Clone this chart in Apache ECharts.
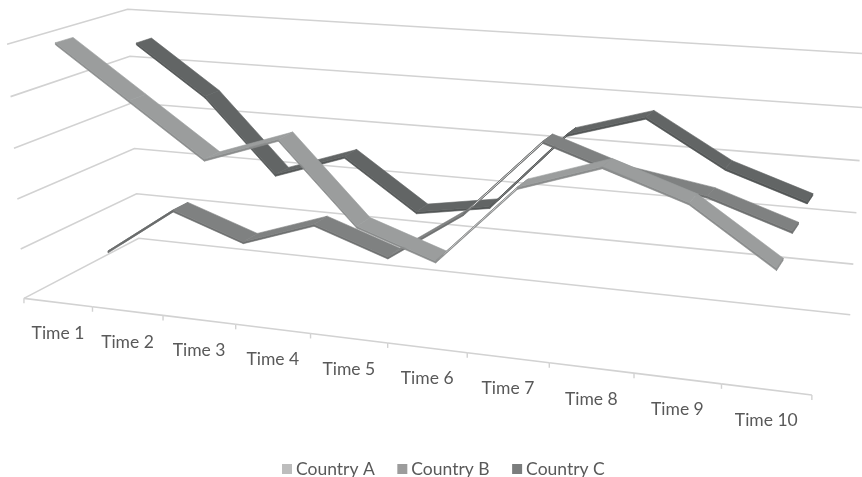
<!DOCTYPE html>
<html>
<head>
<meta charset="utf-8">
<style>html,body{margin:0;padding:0;background:#fff}#chart{width:862px;height:477px}</style>
<script src="https://cdn.jsdelivr.net/npm/echarts@6/dist/echarts.min.js"></script>
</head>
<body>
<div id="chart"></div>
<script>
// Chart data
const categories = ['Time 1','Time 2','Time 3','Time 4','Time 5','Time 6','Time 7','Time 8','Time 9','Time 10'];
const countryA = [5, 4, 3, 3.5, 2, 1.5, 3, 3.5, 3, 2];
const countryB = [0.5, 1.5, 1, 1.5, 1, 2, 3.5, 3, 2.75, 2.25];
const countryC = [4.5, 3.5, 2, 2.5, 1.5, 1.75, 3.3, 3.75, 2.9, 2.4];
const valueTicks = [0, 1, 2, 3, 4, 5];

// Ribbon placement and shades, rear series first so nearer ribbons paint over it
const ribbons = [
  { name: 'Country C', values: countryC, depth: 0.84, legend: '#7b7d7d', top: '#626565', side: '#535656', under: '#565959', steep: '#8a8c8c', edge: '#5a5d5d' },
  { name: 'Country B', values: countryB, depth: 0.50, legend: '#9c9c9c', top: '#7f8181', side: '#6e7070', under: '#686b6b', steep: '#e4e4e4', edge: '#6f7171' },
  { name: 'Country A', values: countryA, depth: 0.17, legend: '#bdbdbd', top: '#9b9d9d', side: '#8a8c8c', under: '#8d8f8f', steep: '#f0f0f0', edge: '#8f9191' }
];
const ribbonWidth = 0.14;
const ribbonThickness = 0.008;
const steepRise = 1.2;

// Scene anchors: unit box position (along, depth, height) and where it lands on the page
const anchors = [
  [0,0,0,24,298],[0,1,0,139,239],[1,0,0,812,395],[1,1,0,850,315],
  [0,0,1,7,45],[0,1,1,128,9],[1,1,1,866,53.5],
  [.5,0,0,388,343],[.2,0,0,163,315],[.8,0,0,634,373],[0,1,.4,134,148],[0,0,.4,17,199]
];

// Least-squares fit of the 3D-to-page perspective matrix
function fitProjection(points) {
  const n = 11, A = Array.from({ length: n }, () => Array(n + 1).fill(0));
  const add = (r, b) => {
    for (let i = 0; i < n; i++) {
      for (let j = 0; j < n; j++) A[i][j] += r[i] * r[j];
      A[i][n] += r[i] * b;
    }
  };
  for (const [u, d, v, px, py] of points) {
    const x = px / 1000, y = py / 1000;
    add([u, d, v, 1, 0, 0, 0, 0, -x * u, -x * d, -x * v], x);
    add([0, 0, 0, 0, u, d, v, 1, -y * u, -y * d, -y * v], y);
  }
  for (let c = 0; c < n; c++) {
    let m = c;
    for (let r = c; r < n; r++) if (Math.abs(A[r][c]) > Math.abs(A[m][c])) m = r;
    [A[c], A[m]] = [A[m], A[c]];
    for (let r = 0; r < n; r++) {
      if (r === c) continue;
      const f = A[r][c] / A[c][c];
      for (let k = c; k <= n; k++) A[r][k] -= f * A[c][k];
    }
  }
  return A.map((r, i) => r[n] / r[i]);
}
const M = fitProjection(anchors);
function project(u, d, v) {
  const w = M[8] * u + M[9] * d + M[10] * v + 1;
  return [1000 * (M[0] * u + M[1] * d + M[2] * v + M[3]) / w,
          1000 * (M[4] * u + M[5] * d + M[6] * v + M[7]) / w];
}

const chart = echarts.init(document.getElementById('chart'), null, { renderer: 'canvas' });
const W = chart.getWidth(), H = chart.getHeight();
// Axis pixels across the full-page grid become unit coordinates for the projection
const toU = px => px / W;
const toV = py => (H - py) / H;

const gridLineStyle = { stroke: '#d2d2d2', lineWidth: 1.6, fill: null };

function renderGridLine(params, api) {
  const v = toV(api.coord([0, api.value(0)])[1]);
  return {
    type: 'polyline', silent: true,
    shape: { points: [project(0, 0, v), project(0, 1, v), project(1, 1, v)] },
    style: gridLineStyle
  };
}

function renderCategoryAxis(params, api) {
  const i = api.value(0);
  const c = api.coord([i, 0]);
  const half = api.size([1, 0])[0] / 2;
  const uL = toU(c[0] - half), uR = toU(c[0] + half), uC = toU(c[0]);
  const a = project(uL, 0, 0), b = project(uR, 0, 0), m = project(uC, 0, 0);
  const children = [
    { type: 'line', silent: true, shape: { x1: a[0], y1: a[1], x2: b[0], y2: b[1] }, style: { stroke: '#d2d2d2', lineWidth: 1.6 } },
    { type: 'line', silent: true, shape: { x1: a[0], y1: a[1], x2: a[0], y2: a[1] + 5 }, style: { stroke: '#d2d2d2', lineWidth: 1.4 } },
    { type: 'text', silent: true, x: m[0], y: m[1] + 31,
      style: { text: categories[i], fill: '#595959', font: '17.5px Lato', align: 'center', verticalAlign: 'middle' } }
  ];
  if (i === categories.length - 1) {
    children.push({ type: 'line', silent: true, shape: { x1: b[0], y1: b[1], x2: b[0], y2: b[1] + 5 }, style: { stroke: '#d2d2d2', lineWidth: 1.4 } });
  }
  return { type: 'group', children };
}

function makeRibbonRenderer(r) {
  return function (params, api) {
    const i = api.value(0);
    const p0 = api.coord([i, api.value(1)]);
    const p1 = api.coord([i + 1, api.value(2)]);
    const u0 = toU(p0[0]), v0 = toV(p0[1]), u1 = toU(p1[0]), v1 = toV(p1[1]);
    const d0 = r.depth - ribbonWidth / 2, d1 = r.depth + ribbonWidth / 2;
    const t = ribbonThickness;
    const quad = [project(u0, d0, v0), project(u1, d0, v1), project(u1, d1, v1), project(u0, d1, v0)];
    let area = 0;
    quad.forEach((q, k) => { const n = quad[(k + 1) % 4]; area += q[0] * n[1] - n[0] * q[1]; });
    // Winding on the page tells whether the ribbon's top or its underside is in view
    const faceUp = area < 0;
    const steep = api.value(2) - api.value(1) > steepRise;
    const children = [
      { type: 'polygon', silent: true,
        shape: { points: [quad[0], quad[1], project(u1, d0, v1 - t), project(u0, d0, v0 - t)] },
        style: { fill: r.side, stroke: r.side, lineWidth: 0.6 } },
      { type: 'polygon', silent: true, shape: { points: quad },
        style: faceUp ? { fill: r.top, stroke: r.top, lineWidth: 0.6 }
                      : { fill: steep ? r.steep : r.under, stroke: r.edge, lineWidth: steep ? 1 : 0.6 } }
    ];
    if (i === categories.length - 2) {
      children.push({ type: 'polygon', silent: true,
        shape: { points: [project(u1, d0, v1), project(u1, d1, v1), project(u1, d1, v1 - t), project(u1, d0, v1 - t)] },
        style: { fill: r.side, stroke: r.side, lineWidth: 0.6 } });
    }
    return { type: 'group', children };
  };
}

const ribbonSeries = ribbons.map(r => ({
  type: 'custom',
  name: r.name,
  coordinateSystem: 'cartesian2d',
  renderItem: makeRibbonRenderer(r),
  itemStyle: { color: r.legend },
  encode: { x: 0, y: 1 },
  data: r.values.slice(0, -1).map((val, i) => [i, val, r.values[i + 1]]),
  animation: false,
  silent: true
}));

chart.setOption({
  animation: false,
  backgroundColor: '#ffffff',
  grid: { left: 0, right: 0, top: 0, bottom: 0 },
  xAxis: { type: 'category', data: categories, show: false },
  yAxis: { type: 'value', min: 0, max: 5, interval: 1, show: false },
  legend: {
    data: ['Country A', 'Country B', 'Country C'],
    left: 282, top: 460,
    icon: 'rect', itemWidth: 10, itemHeight: 10, itemGap: 22.5,
    padding: 0,
    selectedMode: false,
    textStyle: { color: '#595959', fontFamily: 'Lato', fontSize: 17.5, padding: [0, 0, 0, -1] }
  },
  series: [
    { type: 'custom', name: 'grid', renderItem: renderGridLine, encode: { y: 0 }, data: valueTicks.map(t => [t]), silent: true },
    { type: 'custom', name: 'axis', renderItem: renderCategoryAxis, encode: { x: 0 }, data: categories.map((c, i) => [i]), silent: true }
  ].concat(ribbonSeries)
});
</script>
</body>
</html>
